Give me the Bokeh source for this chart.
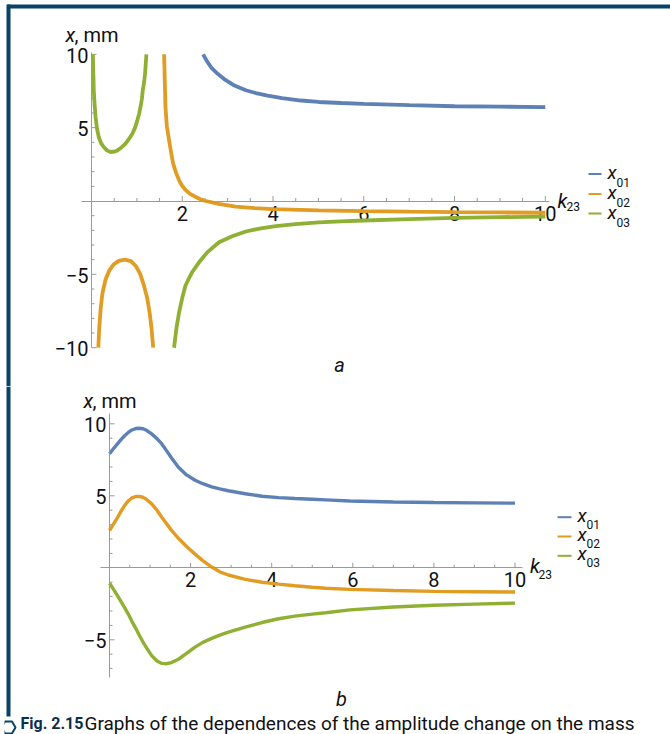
import math
from bokeh.plotting import figure
from bokeh.layouts import column
from bokeh.models import Range1d, FixedTicker, Label, BoxAnnotation
from bokeh.core.properties import value
from bokeh.embed import file_html
from bokeh.resources import INLINE

# ---------------- data: panel a ----------------
k_a01 = [2.46, 2.55, 2.65, 2.78, 2.95, 3.15, 3.4, 3.65, 3.88, 4.2, 4.62, 5.0, 5.5, 6.0, 7.0, 8.0, 9.0, 10.0]
x_a01 = [10.0, 9.5, 9.05, 8.67, 8.25, 7.87, 7.55, 7.33, 7.19, 7.02, 6.85, 6.75, 6.68, 6.62, 6.53, 6.46, 6.43, 6.40]

k_a02_left = [0.15, 0.17, 0.2, 0.24, 0.31, 0.39, 0.48, 0.6, 0.735, 0.87, 0.98, 1.07, 1.15, 1.23, 1.28, 1.32, 1.36]
x_a02_left = [-10.0, -8.7, -7.4, -6.3, -5.35, -4.75, -4.35, -4.08, -4.0, -4.1, -4.45, -4.95, -5.7, -6.65, -7.6, -8.6, -10.0]
k_a02_right = [1.60, 1.615, 1.63, 1.66, 1.71, 1.76, 1.80, 1.86, 1.93, 2.0, 2.08, 2.18, 2.30, 2.40, 2.52, 2.8, 3.18, 3.6, 4.0, 5.0, 6.0, 7.0, 8.0, 9.0, 10.0]
x_a02_right = [10.0, 8.2, 6.4, 5.1, 4.14, 3.2, 2.55, 1.95, 1.41, 1.02, 0.73, 0.47, 0.27, 0.12, 0.0, -0.2, -0.38, -0.48, -0.55, -0.64, -0.69, -0.73, -0.76, -0.78, -0.80]

k_a03_left = [0.03, 0.05, 0.07, 0.09, 0.12, 0.16, 0.21, 0.27, 0.34, 0.42, 0.50, 0.57, 0.66, 0.75, 0.83, 0.90, 0.96, 1.01, 1.05, 1.08, 1.11, 1.13, 1.16, 1.18, 1.21]
x_a03_left = [10.0, 7.55, 6.5, 5.73, 4.95, 4.36, 3.95, 3.68, 3.45, 3.34, 3.36, 3.45, 3.65, 3.91, 4.25, 4.59, 5.0, 5.5, 5.95, 6.41, 6.95, 7.55, 8.1, 8.68, 10.0]
k_a03_right = [1.82, 1.87, 1.93, 2.0, 2.07, 2.15, 2.22, 2.37, 2.55, 2.81, 3.1, 3.40, 3.7, 4.06, 4.5, 5.0, 5.5, 6.0, 7.0, 8.0, 9.0, 10.0]
x_a03_right = [-10.0, -8.7, -7.6, -6.6, -5.78, -5.25, -4.84, -4.18, -3.5, -2.81, -2.4, -2.08, -1.88, -1.71, -1.57, -1.46, -1.39, -1.33, -1.23, -1.15, -1.10, -1.06]

# ---------------- data: panel b ----------------
k_b = [0, 0.1, 0.2, 0.3, 0.38, 0.47, 0.55, 0.65, 0.735, 0.82, 0.9, 1.04, 1.17, 1.29, 1.41, 1.53, 1.7, 1.9,
       2.11, 2.3, 2.52, 2.72, 2.93, 3.35, 3.76, 4.17, 4.57, 5.0, 5.33, 5.93, 7.0, 8.0, 9.0, 10.0]
x_b01 = [7.92, 8.28, 8.62, 8.95, 9.19, 9.42, 9.57, 9.67, 9.69, 9.66, 9.57, 9.3, 8.97, 8.6, 8.12, 7.62, 6.98, 6.45,
         6.08, 5.84, 5.62, 5.48, 5.35, 5.14, 4.97, 4.87, 4.81, 4.76, 4.72, 4.64, 4.57, 4.53, 4.51, 4.49]
x_b02 = [2.59, 3.05, 3.5, 4.0, 4.35, 4.66, 4.85, 4.95, 4.96, 4.9, 4.78, 4.44, 4.0, 3.51, 3.05, 2.6, 2.05, 1.48,
         0.95, 0.5, 0.05, -0.28, -0.5, -0.8, -1.0, -1.13, -1.25, -1.35, -1.42, -1.5, -1.58, -1.64, -1.66, -1.68]
x_b03 = [-1.07, -1.5, -1.95, -2.42, -2.8, -3.25, -3.7, -4.22, -4.68, -5.12, -5.5, -6.1, -6.47, -6.64, -6.66, -6.58, -6.35, -5.95,
         -5.51, -5.18, -4.9, -4.68, -4.47, -4.12, -3.8, -3.54, -3.36, -3.22, -3.12, -2.92, -2.72, -2.6, -2.52, -2.45]

# ---------------- ticks / labels ----------------
x_ticks = [2, 4, 6, 8, 10]
x_tick_labels = ["2", "4", "6", "8", "10"]
x_minor = [0.5, 1, 1.5, 2.5, 3, 3.5, 4.5, 5, 5.5, 6.5, 7, 7.5, 8.5, 9, 9.5]
ya_ticks = [-10, -5, 5, 10]
ya_tick_labels = ["\u221210", "\u22125", "5", "10"]
ya_minor = [-9, -8, -7, -6, -4, -3, -2, -1, 1, 2, 3, 4, 6, 7, 8, 9]
yb_ticks = [-5, 5, 10]
yb_tick_labels = ["\u22125", "5", "10"]
yb_minor = [-7, -6, -4, -3, -2, -1, 1, 2, 3, 4, 6, 7, 8, 9]
series_names = ["01", "02", "03"]
colors = ["#5E81B5", "#E19C24", "#8FB032"]
y_label = ("x", ", mm")
x_label = ("k", "23")
panel_names = ["a", "b"]
caption_bold = "Fig. 2.15"
caption_text = "Graphs of the dependences of the amplitude change on the mass"

FONT = "Roboto"
TXT = "#111111"
AXC = "#9a9a9a"
BORDER = "#0b4268"
W = 670
HA = 386
HB = 734 - HA

# page pixel -> data helpers
def ka(sx): return (sx - 91.0) / 45.38
def va(sy): return (200.5 - sy) / 14.67
def kb(sx): return (sx - 109.0) / 40.55
def vb(sy): return (567.3 - sy) / 14.4


def base(height, xr, yr, xb, yb, xloc):
    p = figure(width=W, height=height, x_range=Range1d(*xr), y_range=Range1d(*yr),
               output_backend="svg", toolbar_location=None, x_axis_location=xloc,
               min_border_left=4, min_border_right=0, min_border_top=0, min_border_bottom=0)
    p.grid.visible = False
    p.outline_line_color = None
    p.background_fill_color = "white"
    p.border_fill_color = "white"
    p.xaxis.ticker = FixedTicker(ticks=[], minor_ticks=[])
    p.yaxis.ticker = FixedTicker(ticks=[], minor_ticks=[])
    p.xaxis.bounds = xb
    p.yaxis.bounds = yb
    for ax in (p.xaxis[0], p.yaxis[0]):
        ax.fixed_location = 0
        ax.axis_line_color = AXC
        ax.major_tick_line_color = None
        ax.minor_tick_line_color = None
        ax.major_tick_in = 0
        ax.major_tick_out = 0
        ax.minor_tick_in = 0
        ax.minor_tick_out = 0
        ax.major_label_standoff = 0
    return p


def tick_marks(p, xt, yt, xm, ym):
    # Mathematica-style ticks pointing into the positive direction
    for xs, ln in ((xt, 5), (xm, 3)):
        p.ray(x=xs, y=[0] * len(xs), length=ln, length_units="screen", angle=math.pi / 2,
              line_color=AXC, line_width=1)
    for ys, ln in ((yt, 5), (ym, 3)):
        p.ray(x=[0] * len(ys), y=ys, length=ln, length_units="screen", angle=0,
              line_color=AXC, line_width=1)


def ticklabels(p, xt, xl, yt, yl):
    p.text(x=xt, y=[0] * len(xt), text=xl, text_font=value(FONT), text_font_size="20px",
           text_color=TXT, text_align="center", text_baseline="middle", y_offset=12)
    p.text(x=[0] * len(yt), y=yt, text=yl, text_font=value(FONT), text_font_size="20px",
           text_color=TXT, text_align="right", text_baseline="middle", x_offset=-3, y_offset=1)


def lbl(p, x, y, text, size, style="normal", align="left", color=TXT):
    p.add_layout(Label(x=x, y=y, text=text, text_font=FONT, text_font_size=size,
                       text_font_style=style, text_align=align, text_baseline="middle",
                       text_color=color))


# ---------------- panel a ----------------
pa = base(HA, (ka(4), ka(W)), (va(HA), va(0)), (-0.22, 10.09), (-10.0, 10.1), "above")
tick_marks(pa, x_ticks, ya_ticks, x_minor, ya_minor)
ticklabels(pa, x_ticks, x_tick_labels, ya_ticks, ya_tick_labels)

LW_A = 3.8
pa.line(k_a01, x_a01, line_color=colors[0], line_width=LW_A)
pa.line(k_a02_left, x_a02_left, line_color=colors[1], line_width=LW_A)
pa.line(k_a02_right, x_a02_right, line_color=colors[1], line_width=LW_A)
pa.line(k_a03_left, x_a03_left, line_color=colors[2], line_width=LW_A)
pa.line(k_a03_right, x_a03_right, line_color=colors[2], line_width=LW_A)

lbl(pa, ka(65), va(34), y_label[0], "20px", "italic")
lbl(pa, ka(74), va(34), y_label[1], "20px")
lbl(pa, ka(557), va(200), x_label[0], "20px", "italic")
lbl(pa, ka(566), va(205.5), x_label[1], "12px")
lbl(pa, ka(339), va(364), panel_names[0], "20px", "italic", "center")

leg_y_a = [173.5, 193.5, 213.0]
pa.segment(x0=[ka(588)] * 3, x1=[ka(601)] * 3, y0=[va(s) for s in leg_y_a],
           y1=[va(s) for s in leg_y_a], line_color=colors, line_width=2)
for s, name in zip(leg_y_a, series_names):
    lbl(pa, ka(607), va(s - 1.5), "x", "19px", "italic")
    lbl(pa, ka(616), va(s + 8.5), name, "12px")

# page frame (dark rule at top and left)
pa.add_layout(BoxAnnotation(left=ka(7), right=ka(W), top=va(4), bottom=va(8),
                            fill_color=BORDER, fill_alpha=1, line_color=None))
pa.add_layout(BoxAnnotation(left=ka(6), right=ka(10), top=va(4), bottom=va(HA),
                            fill_color=BORDER, fill_alpha=1, line_color=None))

# ---------------- panel b ----------------
pb = base(HB, (kb(4), kb(W)), (vb(734), vb(HA)), (-0.22, 10.18), (-7.6, 10.7), "below")
tick_marks(pb, x_ticks, yb_ticks, x_minor, yb_minor)
ticklabels(pb, x_ticks, x_tick_labels, yb_ticks, yb_tick_labels)

LW_B = 3.4
pb.line(k_b, x_b01, line_color=colors[0], line_width=LW_B)
pb.line(k_b, x_b02, line_color=colors[1], line_width=LW_B)
pb.line(k_b, x_b03, line_color=colors[2], line_width=LW_B)

lbl(pb, kb(83), vb(400), y_label[0], "20px", "italic")
lbl(pb, kb(92), vb(400), y_label[1], "20px")
lbl(pb, kb(529.5), vb(565), x_label[0], "20px", "italic")
lbl(pb, kb(538), vb(574), x_label[1], "12px")
lbl(pb, kb(341), vb(698), panel_names[1], "20px", "italic", "center")

leg_y_b = [516.7, 536.0, 555.3]
pb.segment(x0=[kb(557)] * 3, x1=[kb(571)] * 3, y0=[vb(s) for s in leg_y_b],
           y1=[vb(s) for s in leg_y_b], line_color=colors, line_width=2)
for s, name in zip(leg_y_b, series_names):
    lbl(pb, kb(577), vb(s - 2), "x", "19px", "italic")
    lbl(pb, kb(586), vb(s + 7), name, "12px")

pb.add_layout(BoxAnnotation(left=kb(6), right=kb(10), top=vb(HA), bottom=vb(716),
                            fill_color=BORDER, fill_alpha=1, line_color=None))

# caption line
pb.scatter(x=[kb(8)], y=[vb(727)], marker="hex", size=14, fill_color=None,
           line_color=BORDER, line_width=2)
lbl(pb, kb(20), vb(723), caption_bold, "16px", "bold", "left", "#0b2f4a")
lbl(pb, kb(84), vb(723), caption_text, "19px")

layout = column(pa, pb)
open("out.html", "w").write(file_html(layout, INLINE))
